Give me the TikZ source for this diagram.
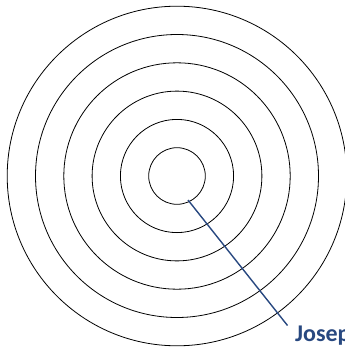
\documentclass[tikz,border=0pt]{standalone}
\usepackage{fontspec}
\setmainfont{Carlito}
\definecolor{labelblue}{RGB}{40,72,128}
\begin{document}
\begin{tikzpicture}[x=1pt,y=-1pt,
  ring/.style={draw=black,line width=0.8pt},
  leader/.style={draw=labelblue,line width=1.4pt},
  lbl/.style={text=labelblue,font=\bfseries\fontsize{24}{28}\selectfont,inner sep=0pt,anchor=base west}]
\useasboundingbox (0,0) rectangle (345,348);
\coordinate (c) at (177,176);
\foreach \k in {1,...,6} {
  \draw[ring] (c) circle[radius=28.3*\k];
}
\coordinate (s) at (188,200);
\coordinate (e) at (287.5,325.5);
\node[lbl] (joseph) at (295,341) {Josep};
\draw[leader] (s) -- (e);
\end{tikzpicture}
\end{document}
